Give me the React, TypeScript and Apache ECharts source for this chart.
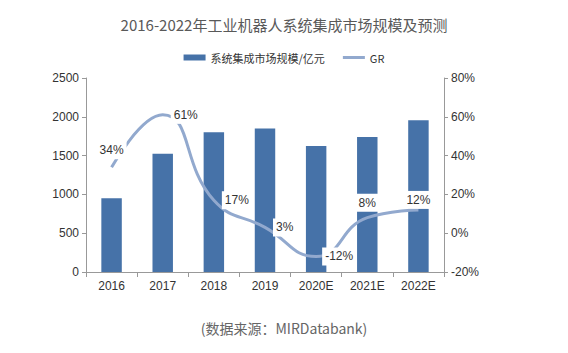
import React, { useEffect, useRef } from "react";
import * as echarts from "echarts";

const categories = ["2016", "2017", "2018", "2019", "2020E", "2021E", "2022E"];
const marketSize = [950, 1525, 1800, 1850, 1625, 1740, 1955];
const growthRate = [34, 61, 17, 3, -12, 8, 12];
const labelPositions = ["top", "right", "right", "right", "right", "top", "top"];
const labelDistances = [8, 8, 8, 8, 6, 6, 1];
const titleText = "2016-2022年工业机器人系统集成市场规模及预测";
const sourceText = "(数据来源：MIRDatabank)";

export default function App() {
  const ref = useRef<HTMLDivElement>(null);
  useEffect(() => {
    if (!ref.current) return;
    const chart = echarts.init(ref.current, null, { renderer: "svg" });
    const font = "Arial";
    const cjk = "Noto Sans CJK SC";
    chart.setOption({
      animation: false,
      backgroundColor: "#ffffff",
      title: {
        text: titleText,
        left: "center",
        top: 12,
        textStyle: { fontSize: 15, fontWeight: "normal", color: "#595959", fontFamily: cjk },
      },
      legend: {
        top: 47,
        left: "center",
        itemWidth: 22,
        itemHeight: 6,
        itemGap: 18,
        textStyle: { fontSize: 11, color: "#333", fontFamily: cjk },
        data: [
          { name: "系统集成市场规模/亿元", icon: "rect" },
          { name: "GR", icon: "path://M0,0h22v3h-22z" },
        ],
      },
      grid: { left: 86, right: 124, top: 78, bottom: 81 },
      xAxis: {
        type: "category",
        data: categories,
        axisLine: { lineStyle: { color: "#999" } },
        axisTick: { show: true, alignWithLabel: false, length: 5, lineStyle: { color: "#999" } },
        axisLabel: { color: "#333", fontSize: 12, fontFamily: font, margin: 8 },
      },
      yAxis: [
        {
          type: "value",
          min: 0,
          max: 2500,
          interval: 500,
          axisLine: { show: true, lineStyle: { color: "#999" } },
          axisTick: { show: true, length: 4, lineStyle: { color: "#999" } },
          splitLine: { show: false },
          axisLabel: { color: "#333", fontSize: 12, fontFamily: font, margin: 7, formatter: (v: number) => String(v) },
        },
        {
          type: "value",
          min: -20,
          max: 80,
          interval: 20,
          position: "right",
          axisLine: { show: true, lineStyle: { color: "#999" } },
          axisTick: { show: true, length: 4, lineStyle: { color: "#999" } },
          splitLine: { show: false },
          axisLabel: { color: "#333", fontSize: 12, fontFamily: font, margin: 7, formatter: "{value}%" },
        },
      ],
      series: [
        {
          name: "系统集成市场规模/亿元",
          type: "bar",
          data: marketSize,
          barWidth: "40%",
          itemStyle: { color: "#4672A8" },
          z: 1,
        },
        {
          name: "GR",
          type: "line",
          yAxisIndex: 1,
          smooth: 0.5,
          data: growthRate.map((v, i) => ({
            value: v,
            label: { position: labelPositions[i], distance: labelDistances[i] },
          })),
          showSymbol: true,
          symbol: "circle",
          symbolSize: 0,
          itemStyle: { color: "#92A9CE" },
          lineStyle: { color: "#92A9CE", width: 3 },
          label: {
            show: true,
            formatter: "{c}%",
            color: "#333",
            fontSize: 12,
            fontFamily: font,
            backgroundColor: "#ffffff",
            padding: [3, 3],
          },
          z: 3,
        },
      ],
      graphic: [
        {
          type: "text",
          left: "center",
          top: 321,
          style: { text: sourceText, fontSize: 14, fill: "#666666", fontFamily: cjk },
        },
      ],
    });
    return () => chart.dispose();
  }, []);
  return <div ref={ref} style={{ width: 568, height: 353, margin: -8 }} />;
}
